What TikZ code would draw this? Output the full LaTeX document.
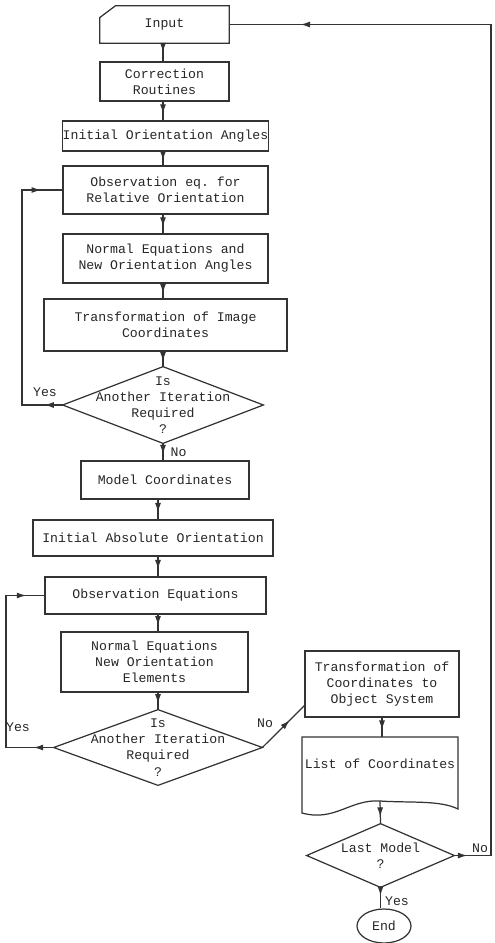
\documentclass[tikz,border=0pt]{standalone}
\usepackage{fontspec}
\setmonofont{Liberation Mono}
\usetikzlibrary{arrows.meta,calc,shapes.geometric,decorations.markings}
\tikzset{
  >={Latex[length=1.9mm,width=1.2mm]},
  every node/.style={font=\ttfamily\fontsize{7.5}{9.2}\selectfont, text=black!85},
  box/.style 2 args={draw=black!80, line width=0.7pt, minimum width=#1*0.02cm, minimum height=#2*0.02cm, inner sep=0pt, align=center},
  hidden/.style 2 args={minimum width=#1*0.02cm, minimum height=#2*0.02cm, inner sep=0pt, align=center},
  outline/.style={draw=black!80, line width=0.7pt, line join=miter},
  midflow/.style={outline, postaction={decorate}, decoration={markings, mark=at position #1 with {\arrow{>}}}},
  midflow/.default=0.65,
  loopflow/.style 2 args={outline, postaction={decorate}, decoration={markings, mark=at position #1 with {\arrow{>}}, mark=at position #2 with {\arrow{>}}}},
  lbl/.style={inner sep=0pt},
}

\begin{document}
\begin{tikzpicture}[x=0.02cm, y=-0.02cm]
  \useasboundingbox (0,0) rectangle (494,943);

  % ── Relative orientation column ──
  \node[hidden={129}{37}] (in) at (164.5,24.5) {\raisebox{-2pt}{Input}};
  \draw[outline] (in.south west) -- ($(in.north west)+(0,12)$) -- ($(in.north west)+(16,0)$)
    -- (in.north east) -- (in.south east) -- cycle;
  \node[box={129}{39}] (corr)    at (164.5,81.5) {Correction\\Routines};
  \node[box={205}{30}] (ioa)     at (165.5,136)  {Initial Orientation Angles};
  \node[box={205}{48}] (obsrel)  at (165.5,190)  {Observation eq. for\\Relative Orientation};
  \node[box={205}{49}] (normrel) at (165.5,258.5) {Normal Equations and\\New Orientation Angles};
  \node[box={243}{52}] (trimg)   at (165.5,325)  {Transformation of Image\\Coordinates};
  \node[hidden={200}{76}] (dec1) at (163,405)    {Is\\Another Iteration\\Required\\?};
  \draw[outline] (dec1.north) -- (dec1.east) -- (dec1.south) -- (dec1.west) -- cycle;

  % ── Absolute orientation column ──
  \node[box={168}{38}] (model)   at (165,480)    {Model Coordinates};
  \node[box={240}{36}] (iabs)    at (153,538)    {Initial Absolute Orientation};
  \node[box={221}{37}] (obsabs)  at (155.5,595.5) {Observation Equations};
  \node[box={187}{60}] (normabs) at (154.5,662)  {Normal Equations\\New Orientation\\Elements};
  \node[hidden={208}{75}] (dec2) at (158,747.5)  {Is\\Another Iteration\\Required\\?};
  \draw[outline] (dec2.north) -- (dec2.east) -- (dec2.south) -- (dec2.west) -- cycle;

  % ── Output column ──
  \node[box={154}{66}] (trobj) at (382,684) {Transformation of\\Coordinates to\\Object System};
  \node[hidden={156}{54}] (list) at (380,764) {List of Coordinates};
  \draw[outline] (302,737) -- (458,737) -- (458,809)
    .. controls (440,800) and (410,803) .. (380,801)
    .. controls (350,799) and (335,822) .. (302,813) -- cycle;
  \coordinate (lsb) at (380,801);
  \node[hidden={147}{63}] (dec3) at (380.5,855.5) {Last Model\\?};
  \draw[outline] (dec3.north) -- (dec3.east) -- (dec3.south) -- (dec3.west) -- cycle;
  \node[ellipse, draw=black!80, line width=0.7pt, minimum width=54*0.02cm, minimum height=34*0.02cm, inner sep=0pt] (fin) at (384,926) {End};

  % ── Main flow (upper column on x of dec1, lower on x of dec2) ──
  \draw[midflow=0.5] (in.south -| dec1.north) -- (corr.north -| dec1.north);
  \draw[midflow] (corr.south -| dec1.north) -- (ioa.north -| dec1.north);
  \draw[midflow] (ioa.south -| dec1.north) -- (obsrel.north -| dec1.north);
  \draw[midflow] (obsrel.south -| dec1.north) -- (normrel.north -| dec1.north);
  \draw[midflow] (normrel.south -| dec1.north) -- (trimg.north -| dec1.north);
  \draw[midflow] (trimg.south -| dec1.north) -- (dec1.north);
  \draw[midflow] (dec1.south) -- (dec1.south |- model.north)
    node[midway, right=4pt, lbl] (no1) {No};
  \draw[midflow] (model.south -| dec2.north) -- (iabs.north -| dec2.north);
  \draw[midflow] (iabs.south -| dec2.north) -- (obsabs.north -| dec2.north);
  \draw[midflow] (obsabs.south -| dec2.north) -- (normabs.north -| dec2.north);
  \draw[midflow] (normabs.south -| dec2.north) -- (dec2.north);
  \draw[midflow] (dec2.east) -- ($(trobj.south west)+(0,-12)$);
  \draw[midflow] (trobj.south) -- (trobj.south |- list.north);
  \draw[midflow=0.7] (lsb) -- (dec3.north);
  \draw[midflow=0.4] (dec3.south) -- (dec3.south |- fin.north);

  % ── Iteration loops ──
  \draw[loopflow={0.062}{0.928}] (dec1.west) -- (22,405) |- (obsrel.west);
  \draw[loopflow={0.084}{0.924}] (dec2.west) -- (6,747.5) |- (obsabs.west);

  % ── Next model ──
  \draw[loopflow={0.0115}{0.937}] (dec3.east) -- (491,855.5) |- (in.east);

  % ── Branch labels ──
  \node[lbl] (yes1) at (45,392)  {Yes};
  \node[lbl] (yes2) at (18,727)  {Yes};
  \node[lbl] (no2)  at (265,723) {No};
  \node[lbl] (no3)  at (480,848) {No};
  \node[lbl] (yes3) at (397,901) {Yes};
\end{tikzpicture}
\end{document}
